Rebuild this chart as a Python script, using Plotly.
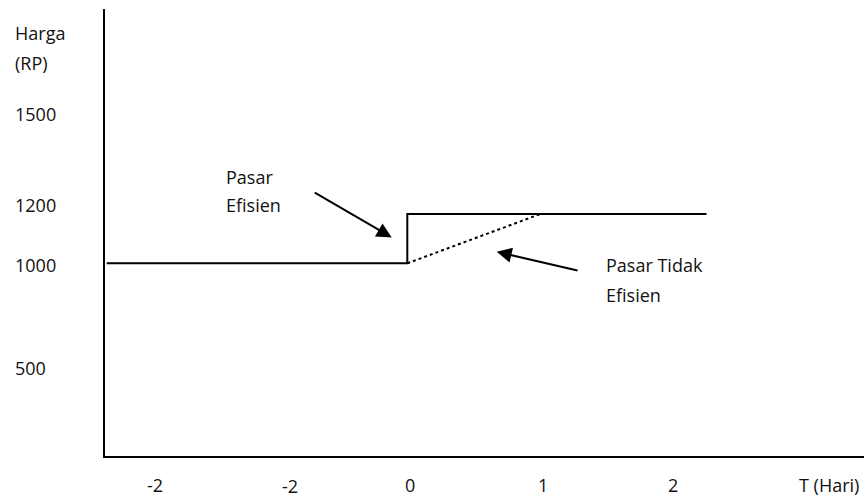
import plotly.graph_objects as go

# ---- data ----
time_efficient = [-2.26, 0, 0, 2.25]
price_efficient = [1000, 1000, 1200, 1200]
time_inefficient = [0, 1]
price_inefficient = [1000, 1200]

x_tick_at = [-1.9, -0.88, 0.02, 1.02, 2.0]
x_tick_text = ["-2", "-2", "0", "1", "2"]
y_tick_at = [1607, 1236, 993, 575]
y_tick_text = ["1500", "1200", "1000", "500"]

# ---- layout geometry ----
W, H = 864, 499
PL, PR, PT, PB = 105, 0, 9, 43
PW, PH = W - PL - PR, H - PT - PB
XR = [-2.273, 3.434]
YR = [218, 2032]

def px(xp):
    return (xp - PL) / PW

def py(yp):
    return (PT + PH - yp) / PH

def dx(v):
    return (v - XR[0]) / (XR[1] - XR[0])

def dy(v):
    return (v - YR[0]) / (YR[1] - YR[0])

FONT = dict(family="Open Sans, Lato, sans-serif", size=18, color="#111")

fig = go.Figure()
fig.add_trace(go.Scatter(x=time_efficient, y=price_efficient, mode="lines",
                         line=dict(color="black", width=2), hoverinfo="skip"))
fig.add_trace(go.Scatter(x=time_inefficient, y=price_inefficient, mode="lines",
                         line=dict(color="black", width=2, dash="dot"), hoverinfo="skip"))

ann = []

def text(t, x, y, xanchor="left"):
    ann.append(dict(text=t, x=x, y=y, xref="paper", yref="paper", xanchor=xanchor,
                    yanchor="middle", showarrow=False, font=FONT))

text("Harga", px(12.7), py(33))
text("(RP)", px(12.7), py(63))
for lbl, v in zip(y_tick_text, y_tick_at):
    text(lbl, px(12.7), dy(v))
for i, (lbl, v) in enumerate(zip(x_tick_text, x_tick_at)):
    text(lbl, dx(v), py(486.3 if i == 1 else 485.3), xanchor="center")
text("T (Hari)", px(828.5), py(485), xanchor="center")
text("Pasar", px(224), py(177))
text("Efisien", px(224), py(205))
text("Pasar Tidak", px(604), py(265))
text("Efisien", px(604), py(295))

# arrows (data coordinates)
for (tx, ty), (hx, hy) in [((-0.707, 1290), (-0.117, 1105)),
                           ((1.291, 969), (0.672, 1047))]:
    ann.append(dict(x=hx, y=hy, ax=tx, ay=ty, xref="x", yref="y", axref="x", ayref="y",
                    text="", showarrow=True, arrowhead=2, arrowsize=1.5, arrowwidth=2,
                    arrowcolor="black", standoff=0))

fig.update_layout(
    width=W, height=H, margin=dict(l=PL, r=PR, t=PT, b=PB),
    paper_bgcolor="white", plot_bgcolor="white", showlegend=False,
    annotations=ann,
    xaxis=dict(range=XR, showgrid=False, zeroline=False, showticklabels=False,
               showline=True, linecolor="black", linewidth=2, ticks=""),
    yaxis=dict(range=YR, showgrid=False, zeroline=False, showticklabels=False,
               showline=True, linecolor="black", linewidth=2, ticks=""),
)
fig.write_html("out.html", config={"displayModeBar": False},
               post_script="document.body.style.margin='0';document.body.style.overflow='hidden';")
